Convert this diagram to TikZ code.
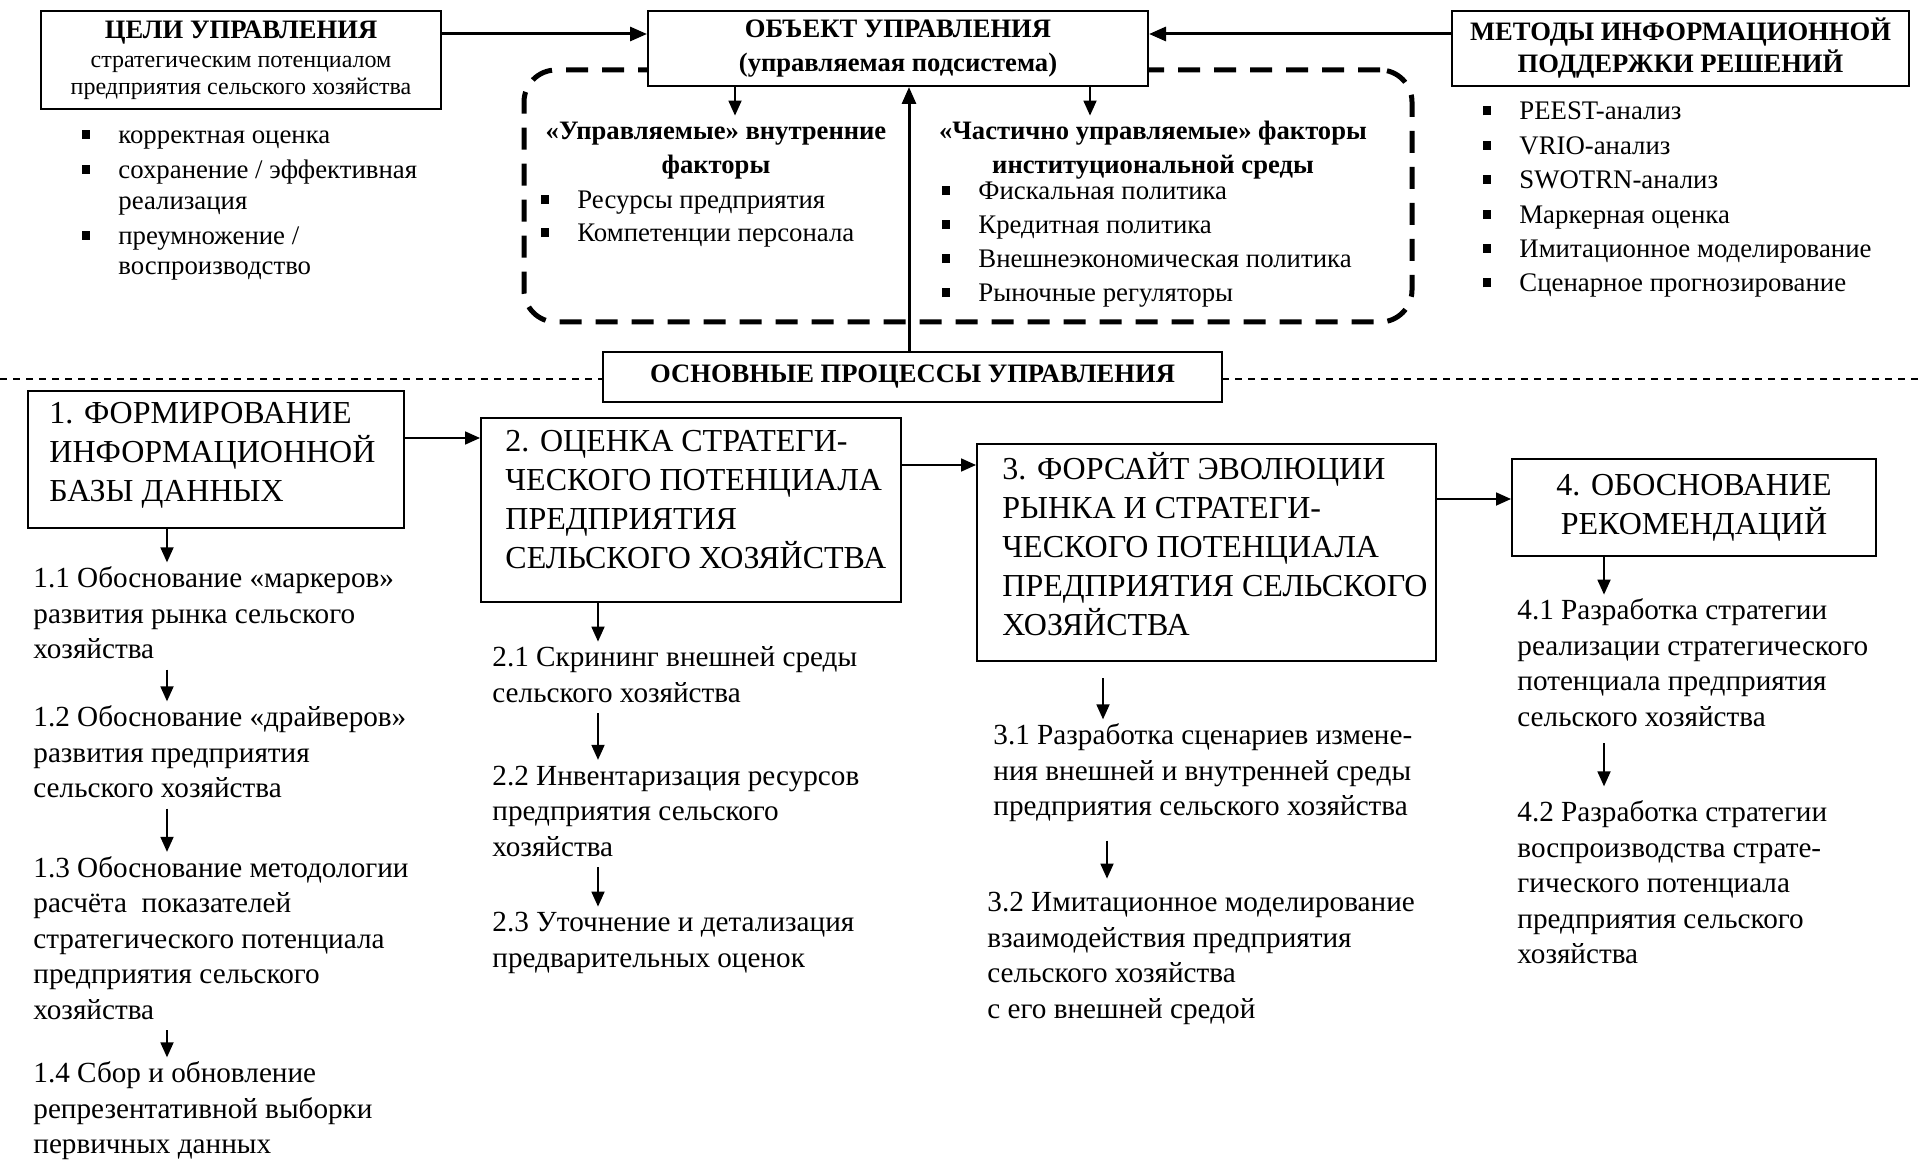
\documentclass[tikz,border=0pt]{standalone}
\usepackage{fontspec}
\setmainfont{Liberation Serif}
\usetikzlibrary{arrows.meta,calc}

\newcommand\fontHead{\fontsize{13.3}{17}\selectfont\bfseries}
\newcommand\fontSub{\fontsize{12}{13.6}\selectfont}
\newcommand\fontList{\fontsize{13.4}{17.2}\selectfont}
\newcommand\fontBox{\fontsize{16}{19.5}\selectfont}
\newcommand\fontBody{\fontsize{14.6}{17.75}\selectfont}
\newcommand\blt{\makebox[18pt][l]{\rule[0.17em]{4pt}{4.5pt}}}

\begin{document}
\begin{tikzpicture}[x=0.5pt,y=-0.5pt,
  frame/.style={draw, line width=1pt, fill=white, inner sep=0pt},
  txt/.style={inner sep=0pt, align=left, anchor=west},
  bigarrow/.style={line width=1.5pt, -{Triangle[length=8.5pt,width=7pt]}},
  smallarrow/.style={line width=0.9pt, -{Triangle[length=7.5pt,width=6.5pt]}},
  ctrlbox/.style={draw, line width=2.5pt, dash pattern=on 11pt off 7pt, rounded corners=16pt, inner sep=0pt},
  sepline/.style={line width=0.8pt, dash pattern=on 3.5pt off 3pt}]

\useasboundingbox (0,0) rectangle (1921,1160);

% separator line
\coordinate (sepL) at (0,379);
\coordinate (sepR) at (1921,379);
\draw[sepline] (sepL) -- (sepR);

% dashed container
\node[ctrlbox, minimum width=444pt, minimum height=126pt] (ctrl) at (968,196) {};

% top boxes
\node[frame, minimum width=200pt, minimum height=49pt, align=center, font=\fontSub] (goals) at (241,60)
  {{\fontHead ЦЕЛИ УПРАВЛЕНИЯ}\\[1pt]стратегическим потенциалом\\предприятия сельского хозяйства};
\node[frame, minimum width=250pt, minimum height=37.5pt, align=center, font=\fontHead] (obj) at (898,48.5)
  {ОБЪЕКТ УПРАВЛЕНИЯ\\(управляемая подсистема)};
\node[frame, minimum width=228.5pt, minimum height=37.5pt, align=center, font=\fontHead] (meth) at (1680.5,48.5)
  {МЕТОДЫ ИНФОРМАЦИОННОЙ\\[-1pt]ПОДДЕРЖКИ РЕШЕНИЙ};

\coordinate (ty) at (0,34);
\draw[bigarrow] (goals.east |- ty) -- (obj.west |- ty);
\draw[bigarrow] (meth.west |- ty) -- (obj.east |- ty);

% lists top
\node[txt, font={\fontsize{13.4}{15.3}\selectfont}] (glist) at (82,203)
  {\strut\blt корректная оценка\\[2.2pt]\blt сохранение / эффективная\\\hspace*{18pt}реализация\\[2.2pt]\blt преумножение /\\\hspace*{18pt}воспроизводство\strut};
\node[txt, font=\fontList] (mlist) at (1483,199)
  {\strut\blt PEEST-анализ\\\blt VRIO-анализ\\\blt SWOTRN-анализ\\\blt Маркерная оценка\\\blt Имитационное моделирование\\\blt Сценарное прогнозирование\strut};

% factor headings
\node[inner sep=0pt, align=center, font=\fontHead] (inhead) at (716,150)
  {\strut«Управляемые» внутренние\\факторы\strut};
\node[inner sep=0pt, align=center, font=\fontHead] (exhead) at (1153,150)
  {\strut«Частично управляемые» факторы\\институциональной среды\strut};
\node[txt, font={\fontsize{13.4}{16.5}\selectfont}] (ilist) at (541,218.5)
  {\strut\blt Ресурсы предприятия\\\blt Компетенции персонала\strut};
\node[txt, font={\fontsize{13.4}{17}\selectfont}] (elist) at (942,244)
  {\strut\blt Фискальная политика\\\blt Кредитная политика\\\blt Внешнеэкономическая политика\\\blt Рыночные регуляторы\strut};

\coordinate (ia) at ($(obj.south)+(-163,0)$);
\coordinate (ea) at ($(obj.south)+(192,0)$);
\draw[smallarrow] (ia) -- (ia |- inhead.north);
\draw[smallarrow] (ea) -- (ea |- exhead.north);

% main processes
\node[frame, minimum width=309.5pt, minimum height=25pt, font=\fontHead] (mainp) at (912.5,377)
  {ОСНОВНЫЕ ПРОЦЕССЫ УПРАВЛЕНИЯ};
\draw[bigarrow] ($(mainp.north)+(-3.5,0)$) -- ($(obj.south)+(11,0)$);

% lower boxes
\node[frame, minimum width=188pt, minimum height=68.5pt] (b1) at (216,459.5) {};
\node[txt, font=\fontBox] (t1) at (49,455)
  {\strut 1. ФОРМИРОВАНИЕ\\ИНФОРМАЦИОННОЙ\\БАЗЫ ДАННЫХ\strut};
\node[frame, minimum width=210pt, minimum height=92pt] (b2) at (691,510) {};
\node[txt, font=\fontBox] (t2) at (505,502.5)
  {\strut 2. ОЦЕНКА СТРАТЕГИ-\\ЧЕСКОГО ПОТЕНЦИАЛА\\ПРЕДПРИЯТИЯ\\СЕЛЬСКОГО ХОЗЯЙСТВА\strut};
\node[frame, minimum width=229.5pt, minimum height=108.5pt] (b3) at (1206.5,552.5) {};
\node[txt, font=\fontBox] (t3) at (1002,549.5)
  {\strut 3. ФОРСАЙТ ЭВОЛЮЦИИ\\РЫНКА И СТРАТЕГИ-\\ЧЕСКОГО ПОТЕНЦИАЛА\\ПРЕДПРИЯТИЯ СЕЛЬСКОГО\\ХОЗЯЙСТВА\strut};
\node[frame, minimum width=182pt, minimum height=48.5pt, align=center, font=\fontBox] (b4) at (1694,507.5)
  {4. ОБОСНОВАНИЕ\\РЕКОМЕНДАЦИЙ};

\coordinate (h1) at (0,438);
\coordinate (h2) at (0,465);
\coordinate (h3) at (0,499);
\draw[smallarrow] (b1.east |- h1) -- (b2.west |- h1);
\draw[smallarrow] (b2.east |- h2) -- (b3.west |- h2);
\draw[smallarrow] (b3.east |- h3) -- (b4.west |- h3);

% step texts
\node[txt, font=\fontBody] (s11) at (33,616)
  {\strut 1.1 Обоснование «маркеров»\\развития рынка сельского\\хозяйства\strut};
\node[txt, font=\fontBody] (s12) at (33,755)
  {\strut 1.2 Обоснование «драйверов»\\развития предприятия\\сельского хозяйства\strut};
\node[txt, font=\fontBody] (s13) at (33,941)
  {\strut 1.3 Обоснование методологии\\расчёта\ \ показателей\\стратегического потенциала\\предприятия сельского\\хозяйства\strut};
\node[txt, font=\fontBody] (s14) at (33,1111)
  {\strut 1.4 Сбор и обновление\\репрезентативной выборки\\первичных данных\strut};

\node[txt, font=\fontBody] (s21) at (492,677.5)
  {\strut 2.1 Скрининг внешней среды\\сельского хозяйства\strut};
\node[txt, font=\fontBody] (s22) at (492,813.5)
  {\strut 2.2 Инвентаризация ресурсов\\предприятия сельского\\хозяйства\strut};
\node[txt, font=\fontBody] (s23) at (492,942.5)
  {\strut 2.3 Уточнение и детализация\\предварительных оценок\strut};

\node[txt, font=\fontBody] (s31) at (993,773)
  {\strut 3.1 Разработка сценариев измене-\\ния внешней и внутренней среды\\предприятия сельского хозяйства\strut};
\node[txt, font=\fontBody] (s32) at (987,958)
  {\strut 3.2 Имитационное моделирование\\взаимодействия предприятия\\сельского хозяйства\\с его внешней средой\strut};

\node[txt, font=\fontBody] (s41) at (1517,666)
  {\strut 4.1 Разработка стратегии\\реализации стратегического\\потенциала предприятия\\сельского хозяйства\strut};
\node[txt, font=\fontBody] (s42) at (1517,885.5)
  {\strut 4.2 Разработка стратегии\\воспроизводства страте-\\гического потенциала\\предприятия сельского\\хозяйства\strut};

\coordinate (c1) at (167,0);
\coordinate (c2) at (598,0);
\coordinate (c3) at (1103,0);
\coordinate (c3b) at (1107,0);
\coordinate (c4) at (1604,0);

\draw[smallarrow] (b1.south -| c1) -- (s11.north -| c1);
\draw[smallarrow] (s11.south -| c1) -- (s12.north -| c1);
\draw[smallarrow] (s12.south -| c1) -- (s13.north -| c1);
\draw[smallarrow] (s13.south -| c1) -- (s14.north -| c1);

\draw[smallarrow] (b2.south -| c2) -- (s21.north -| c2);
\draw[smallarrow] (s21.south -| c2) -- (s22.north -| c2);
\draw[smallarrow] (s22.south -| c2) -- (s23.north -| c2);

\draw[smallarrow] ($(b3.south -| c3)+(0,16)$) -- (s31.north -| c3);
\draw[smallarrow] ($(s31.south -| c3b)+(0,14)$) -- ($(s32.north -| c3b)+(0,-8)$);

\draw[smallarrow] (b4.south -| c4) -- (s41.north -| c4);
\draw[smallarrow] ($(s41.south -| c4)+(0,6)$) -- ($(s42.north -| c4)+(0,-10)$);
\end{tikzpicture}
\end{document}
